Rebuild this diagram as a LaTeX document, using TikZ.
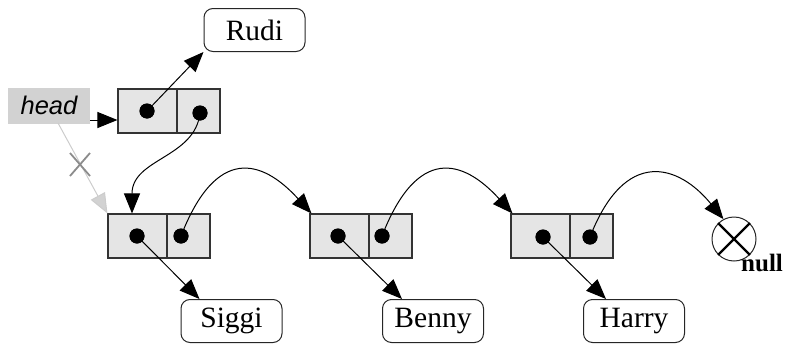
\documentclass[tikz,border=0pt]{standalone}
\usepackage{fontspec}
\setmainfont{Liberation Serif}
\setsansfont{Liberation Sans}
\usetikzlibrary{arrows.meta,calc}
\begin{document}
\begin{tikzpicture}[x=1pt,y=-1pt,
  cell/.style={draw=black!80, line width=1.1pt, fill=gray!20, minimum height=44pt, inner sep=0pt},
  cella/.style={cell, minimum width=59pt},
  cellb/.style={cell, minimum width=43pt},
  dot/.style={circle, fill=black, minimum size=15pt, inner sep=0pt},
  namebox/.style={draw=black!85, line width=1pt, rounded corners=9pt, minimum width=101pt, minimum height=43pt, inner sep=0pt, font=\fontsize{29.5}{32}\selectfont},
  ptr/.style={line width=1pt, -{Triangle[length=20pt,width=16pt]}},
  gptr/.style={line width=1pt, draw=gray!40, -{Triangle[length=20pt,width=16pt,fill=gray!35]}},
]
\useasboundingbox (0,0) rectangle (787,343);

% names
\node[namebox] (rudi) at (254.5,30) {Rudi};
\node[namebox] (siggi) at (231.5,321) {Siggi};
\node[namebox] (benny) at (433,321) {Benny};
\node[namebox] (harry) at (634,321) {Harry};

% head
\node[fill=gray!35, minimum width=82pt, minimum height=36pt, inner sep=0pt,
      font=\sffamily\itshape\fontsize{25.5}{28}\selectfont] (head) at (49,105.5) {head};

% top node
\node[cella] (ta) at (147.5,111) {};
\node[cellb] (tb) at (198.5,111) {};
\node[dot] (td1) at (147,111) {};
\node[dot] (td2) at (200,113) {};

% list nodes
\node[cella] (n1a) at (137.5,236) {};
\node[cellb] (n1b) at (188.5,236) {};
\node[dot] (n1d1) at (137,236) {};
\node[dot] (n1d2) at (181,236) {};

\node[cella] (n2a) at (339.5,236) {};
\node[cellb] (n2b) at (390.5,236) {};
\node[dot] (n2d1) at (338,236) {};
\node[dot] (n2d2) at (382,236) {};

\node[cella] (n3a) at (540.5,236) {};
\node[cellb] (n3b) at (591.5,236) {};
\node[dot] (n3d1) at (543,237) {};
\node[dot] (n3d2) at (590,237) {};

% null
\node[circle, draw=black!85, line width=1pt, minimum size=44pt, inner sep=0pt] (nul) at (734,239) {};
\draw[line width=2.2pt] (nul.45) -- (nul.225) (nul.135) -- (nul.315);
\node[font=\bfseries\fontsize{25}{28}\selectfont, anchor=base west, inner sep=0pt] (nulltxt) at (741,271) {null};

% head pointers
\coordinate (ha) at (90,120);
\draw[ptr] (ha) -- (ha -| ta.west);
\coordinate (hs) at (58,123);
\draw[gptr] (hs) -- (n1a.north west);
\draw[gray!90, line width=1.8pt] (70,153) -- (90,176) (70,176) -- (90,153);

% top node pointers
\draw[ptr] (td1.center) -- (rudi.south west);
\draw[ptr] (td2.center) .. controls +(-5,45) and +(0,-55) .. ([xshift=-5.5pt]n1a.north);

% data pointers
\draw[ptr] (n1d1.center) -- ([xshift=19pt]siggi.north west);
\draw[ptr] (n2d1.center) -- ([xshift=20pt]benny.north west);
\draw[ptr] (n3d1.center) -- ([xshift=23pt]harry.north west);

% next pointers
\draw[ptr] (n1d2.center) .. controls +(35,-90) and +(-50,-55) .. ([xshift=2pt]n2a.north west);
\draw[ptr] (n2d2.center) .. controls +(35,-90) and +(-50,-55) .. ([xshift=2pt]n3a.north west);
\draw[ptr] (n3d2.center) .. controls +(35,-90) and +(-45,-55) .. (nul.118);

\node[dot] at (td1) {};
\node[dot] at (td2) {};
\node[dot] at (n1d1) {};
\node[dot] at (n1d2) {};
\node[dot] at (n2d1) {};
\node[dot] at (n2d2) {};
\node[dot] at (n3d1) {};
\node[dot] at (n3d2) {};
\end{tikzpicture}
\end{document}
